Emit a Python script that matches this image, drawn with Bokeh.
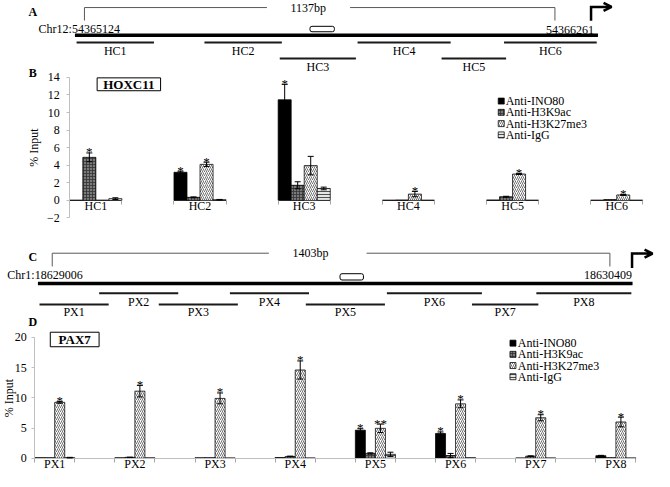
from bokeh.plotting import figure
from bokeh.models import (Range1d, LinearAxis, FixedTicker, Whisker, TeeHead,
                          Arrow, OpenHead, ColumnDataSource)
from bokeh.core.properties import value
from bokeh.embed import file_html
from bokeh.resources import INLINE

# ---------------------------------------------------------------- data
SERIES = ["Anti-INO80", "Anti-H3K9ac", "Anti-H3K27me3", "Anti-IgG"]

# Panel B : HOXC11 ChIP, % input
hox_regions = ["HC1", "HC2", "HC3", "HC4", "HC5", "HC6"]
hox_ino80 = [0.03, 3.20, 11.45, 0.03, 0.05, 0.03]
hox_ino80_err = [0.00, 0.12, 1.75, 0.00, 0.00, 0.00]
hox_h3k9ac = [4.90, 0.35, 1.72, 0.05, 0.42, 0.10]
hox_h3k9ac_err = [0.50, 0.05, 0.40, 0.00, 0.05, 0.00]
hox_h3k27me3 = [0.03, 4.10, 3.96, 0.72, 3.00, 0.62]
hox_h3k27me3_err = [0.00, 0.25, 1.05, 0.30, 0.05, 0.05]
hox_igg = [0.20, 0.08, 1.36, 0.03, 0.03, 0.03]
hox_igg_err = [0.10, 0.03, 0.15, 0.00, 0.00, 0.00]
hox_sig_ino80 = ["", "*", "*", "", "", ""]
hox_sig_h3k9ac = ["*", "", "", "", "", ""]
hox_sig_h3k27me3 = ["", "*", "", "*", "*", "*"]
hox_sig_igg = ["", "", "", "", "", ""]
hox_yticks = [-2, 0, 2, 4, 6, 8, 10, 12, 14]

# Panel D : PAX7 ChIP, % input
pax_regions = ["PX1", "PX2", "PX3", "PX4", "PX5", "PX6", "PX7", "PX8"]
pax_ino80 = [0.10, 0.08, 0.08, 0.12, 4.64, 4.10, 0.05, 0.42]
pax_ino80_err = [0.00, 0.00, 0.00, 0.00, 0.25, 0.25, 0.00, 0.06]
pax_h3k9ac = [0.10, 0.15, 0.10, 0.30, 0.80, 0.45, 0.35, 0.10]
pax_h3k9ac_err = [0.00, 0.03, 0.00, 0.05, 0.10, 0.35, 0.05, 0.00]
pax_h3k27me3 = [9.25, 11.10, 9.90, 14.60, 4.95, 9.00, 6.70, 6.00]
pax_h3k27me3_err = [0.15, 0.95, 0.90, 1.50, 0.70, 0.65, 0.50, 0.80]
pax_igg = [0.10, 0.08, 0.05, 0.05, 0.65, 0.10, 0.05, 0.05]
pax_igg_err = [0.05, 0.00, 0.00, 0.00, 0.35, 0.00, 0.00, 0.00]
pax_sig_ino80 = ["", "", "", "", "*", "*", "", ""]
pax_sig_h3k9ac = ["", "", "", "", "", "", "", ""]
pax_sig_h3k27me3 = ["*", "*", "*", "*", "**", "*", "*", "*"]
pax_sig_igg = ["", "", "", "", "", "", "", ""]
pax_yticks = [0, 5, 10, 15, 20]

# Panels A / C : amplicon maps (bp relative to the locus start)
hox_locus_start = "Chr12:54365124"
hox_locus_end = "54366261"
hox_span = 1137
hox_amp_start = [-19, 290, 472, 660, 863, 1014]
hox_amp_end = [168, 477, 656, 885, 1019, 1238]
hox_amp_row = [0, 0, 1, 0, 1, 0]
hox_box = [545, 604]

pax_locus_start = "Chr1:18629006"
pax_locus_end = "18630409"
pax_span = 1403
pax_amp_start = [-32, 118, 268, 447, 638, 842, 1056, 1218]
pax_amp_end = [142, 317, 467, 646, 837, 1081, 1223, 1457]
pax_amp_row = [1, 0, 1, 0, 1, 0, 1, 0]
pax_box = [724, 783]

# ---------------------------------------------------------------- layout
W_REF, H_REF = 670, 487
W, H = 654, 471
FONT = "Liberation Serif"

STYLES = [
    dict(fill_color="black", line_color="black"),
    dict(fill_color="#7a7a7a", line_color="black", hatch_pattern="+",
         hatch_color="#333333", hatch_scale=3, hatch_weight=0.8),
    dict(fill_color="white", line_color="black", hatch_pattern="/",
         hatch_color="#333333", hatch_scale=4, hatch_weight=0.7),
    dict(fill_color="#e6e6e6", line_color="black", hatch_pattern="-",
         hatch_color="#505050", hatch_scale=3, hatch_weight=1),
]


def x_extra(px0, px_per_unit):
    return Range1d(start=-px0 / px_per_unit, end=(W_REF - px0) / px_per_unit)


def y_extra(py0, px_per_unit):
    return Range1d(start=(py0 - H_REF) / px_per_unit, end=py0 / px_per_unit)


p = figure(width=W, height=H, x_range=Range1d(0, W_REF), y_range=Range1d(H_REF, 0),
           x_axis_type=None, y_axis_type=None, output_backend="svg",
           toolbar_location=None, min_border=0, outline_line_color=None)
p.background_fill_color = "white"
p.border_fill_color = "white"

p.extra_x_ranges = {
    "hox_bp": x_extra(86, 482 / hox_span),
    "pax_bp": x_extra(53, 571.3 / pax_span),
    "hox_slot": x_extra(71, 587 / (2 * len(hox_regions) - 1)),
    "pax_slot": x_extra(35, 616 / (2 * len(pax_regions) - 1)),
}
p.extra_y_ranges = {
    "hox_val": y_extra(206.7, 145.4 / 16),
    "pax_val": y_extra(473.3, 125 / 20),
}


def txt(x, y, t, size="12px", align="center", baseline="middle", bold=False, **kw):
    p.text(x=x, y=y, text=t, text_font=value(FONT), text_font_size=size,
           text_align=align, text_baseline=baseline, text_color="black",
           text_font_style="bold" if bold else "normal", **kw)


def schematic(lay, span, locus_start, locus_end, amp_start, amp_end, amp_row, names, box):
    kw = dict(x_range_name=lay["xr"])
    yb, yd = lay["bracket_y"], lay["bracket_drop"]
    gl, gr = lay["gap"]
    p.multi_line(xs=[[0, 0, gl], [gr, span, span]], ys=[[yd, yb, yb], [yb, yb, yd]],
                 line_color="#595959", line_width=1, **kw)
    txt([lay["label_x"]], [yb], [f"{span}bp"], **kw)
    ay = lay["axis_y"]
    p.segment(x0=[min(amp_start) - 4], y0=[ay], x1=[max(amp_end) + 3], y1=[ay],
              line_color="black", line_width=3.5, **kw)
    p.quad(left=[box[0]], right=[box[1]], top=[lay["box_y"][0]], bottom=[lay["box_y"][1]],
           fill_color="white", line_color="black", line_width=1, border_radius=2, **kw)
    ys = [lay["row_y"][r] for r in amp_row]
    p.segment(x0=amp_start, y0=ys, x1=amp_end, y1=ys, line_color="#1a1a1a", line_width=2, **kw)
    txt([(a + b) / 2 for a, b in zip(amp_start, amp_end)],
        [lay["label_y"][r] for r in amp_row], names, **kw)
    sx, sy = lay["start_text"]
    txt([sx], [sy], [locus_start], align="left")
    ex, ey = lay["end_text"]
    txt([ex], [ey], [locus_end], align="right")
    tx, ty0, ty1, tx1 = lay["tss"]
    p.line(x=[tx, tx, tx1 - 3], y=[ty0, ty1, ty1], line_color="black", line_width=2.5,
           line_join="miter")
    p.add_layout(Arrow(end=OpenHead(size=8, line_width=2.5, line_color="black"),
                       x_start=tx1 - 6, y_start=ty1, x_end=tx1, y_end=ty1,
                       line_color="black", line_width=2.5))
    lx, ly, lt = lay["letter"]
    txt([lx], [ly], [lt], bold=True)


def style_axis(ax):
    ax.major_label_text_font = FONT
    ax.major_label_text_font_size = "12px"
    ax.major_label_text_color = "black"
    ax.axis_label_text_font = FONT
    ax.axis_label_text_font_size = "12px"
    ax.axis_label_text_font_style = "normal"
    ax.axis_label_text_color = "black"
    ax.minor_tick_line_color = None


def bar_panel(lay, regions, values, errors, sigs, yticks):
    n = len(regions)
    nslot = 2 * n - 1
    kw = dict(x_range_name=lay["xr"], y_range_name=lay["yr"])
    for i in range(4):
        v, e, s = values[i], errors[i], sigs[i]
        x = [2 * g + (i + 0.5) / 4 for g in range(n)]
        upper = [a + b for a, b in zip(v, e)]
        p.vbar(x=x, top=v, bottom=0, width=0.25, line_width=0.75, **STYLES[i], **kw)
        idx = [g for g in range(n) if e[g] > 0]
        if idx:
            src = ColumnDataSource(dict(x=[x[g] for g in idx],
                                        lo=[v[g] - e[g] for g in idx],
                                        hi=[upper[g] for g in idx]))
            p.add_layout(Whisker(source=src, base="x", lower="lo", upper="hi",
                                 line_color="black", line_width=1, level="annotation",
                                 upper_head=TeeHead(size=6, line_width=1),
                                 lower_head=TeeHead(size=6, line_width=1), **kw))
        sidx = [g for g in range(n) if s[g]]
        if sidx:
            txt([x[g] for g in sidx], [upper[g] for g in sidx], [s[g] for g in sidx],
                size="13px", baseline="alphabetic", y_offset=-1, **kw)

    yaxis = LinearAxis(fixed_location=0, bounds=(min(yticks), max(yticks)),
                       ticker=FixedTicker(ticks=yticks), axis_label="% Input", **kw)
    style_axis(yaxis)
    yaxis.axis_line_color = "#bfbfbf"
    yaxis.major_tick_line_color = "#bfbfbf"
    yaxis.major_tick_out = 3
    yaxis.major_tick_in = 0
    yaxis.major_label_standoff = lay["ylab_standoff"]
    yaxis.axis_label_standoff = lay["yname_standoff"]
    p.add_layout(yaxis, "left")

    centers = [2 * g + 0.5 for g in range(n)]
    xaxis = LinearAxis(fixed_location=0, bounds=(0, nslot),
                       ticker=FixedTicker(ticks=centers, minor_ticks=list(range(nslot + 1))),
                       major_label_overrides={c: r for c, r in zip(centers, regions)}, **kw)
    style_axis(xaxis)
    xaxis.axis_line_color = lay["xaxis_color"]
    xaxis.major_tick_line_color = None
    xaxis.major_tick_out = 0
    xaxis.major_tick_in = 0
    xaxis.minor_tick_line_color = "#a6a6a6"
    xaxis.minor_tick_out = 4
    xaxis.minor_tick_in = 0
    xaxis.major_label_standoff = lay["xlab_standoff"]
    p.add_layout(xaxis, "below")

    # boxed gene name
    bl, br, bt, bb = lay["name_box"]
    p.quad(left=[bl], right=[br], top=[bt], bottom=[bb], fill_color="white",
           line_color="black", line_width=1)
    txt([(bl + br) / 2], [(bt + bb) / 2], [lay["name"]], size="13px", bold=True)
    # legend
    lsq, ltx, ly0, ldy = lay["legend"]
    for i, name in enumerate(SERIES):
        yy = ly0 + i * ldy
        p.rect(x=[lsq], y=[yy], width=6, height=6, width_units="screen",
               height_units="screen", line_width=0.75, **STYLES[i])
        txt([ltx], [yy], [name], align="left")
    lx, ly, lt = lay["letter"]
    txt([lx], [ly], [lt], bold=True)


HOX_MAP = dict(xr="hox_bp", bracket_y=7.3, bracket_drop=20.7, gap=(441, 642), label_x=541,
               axis_y=36, box_y=(26.7, 32.3), row_y=(43.3, 60), label_y=(52.7, 68.3),
               start_text=(39, 29), end_text=(608, 30), tss=(605, 21, 6.7, 626),
               letter=(33, 12, "A"))
PAX_MAP = dict(xr="pax_bp", bracket_y=261.3, bracket_drop=275, gap=(545, 791), label_x=650,
               axis_y=292.5, box_y=(282.5, 289), row_y=(302.7, 314.3), label_y=(311.7, 322.5),
               start_text=(7, 283.5), end_text=(647, 284), tss=(647, 276.5, 261.7, 668),
               letter=(33, 265, "C"))

HOX_BAR = dict(xr="hox_slot", yr="hox_val", ylab_standoff=7, yname_standoff=3,
               xaxis_color=None, xlab_standoff=-5, name_box=(99, 164, 80, 93.3),
               name="HOXC11", legend=(513, 517.5, 104, 11.65), letter=(33, 75, "B"))
PAX_BAR = dict(xr="pax_slot", yr="pax_val", ylab_standoff=5, yname_standoff=-4,
               xaxis_color="#bfbfbf", xlab_standoff=-5, name_box=(51, 101, 343, 358),
               name="PAX7", legend=(525, 530, 354.3, 11.57), letter=(33, 332, "D"))

schematic(HOX_MAP, hox_span, hox_locus_start, hox_locus_end,
          hox_amp_start, hox_amp_end, hox_amp_row, hox_regions, hox_box)
schematic(PAX_MAP, pax_span, pax_locus_start, pax_locus_end,
          pax_amp_start, pax_amp_end, pax_amp_row, pax_regions, pax_box)

bar_panel(HOX_BAR, hox_regions,
          [hox_ino80, hox_h3k9ac, hox_h3k27me3, hox_igg],
          [hox_ino80_err, hox_h3k9ac_err, hox_h3k27me3_err, hox_igg_err],
          [hox_sig_ino80, hox_sig_h3k9ac, hox_sig_h3k27me3, hox_sig_igg], hox_yticks)
bar_panel(PAX_BAR, pax_regions,
          [pax_ino80, pax_h3k9ac, pax_h3k27me3, pax_igg],
          [pax_ino80_err, pax_h3k9ac_err, pax_h3k27me3_err, pax_igg_err],
          [pax_sig_ino80, pax_sig_h3k9ac, pax_sig_h3k27me3, pax_sig_igg], pax_yticks)

open("out.html", "w").write(file_html(p, INLINE))
